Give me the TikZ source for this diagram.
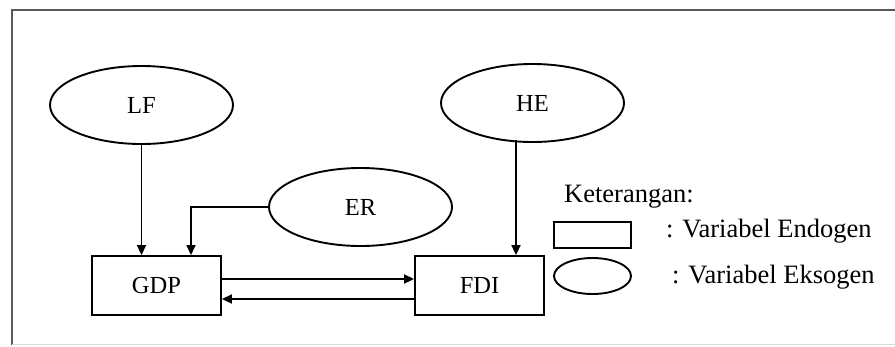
\documentclass[tikz,border=0pt]{standalone}
\usepackage{fontspec}
\setmainfont{Liberation Serif}
\usetikzlibrary{shapes.geometric,arrows.meta}
\begin{document}
\begin{tikzpicture}[x=1pt,y=-1pt,
  exo/.style={draw,ellipse,line width=1.9pt,minimum width=183pt,minimum height=78pt,inner sep=0pt,font=\fontsize{24.5}{26}\selectfont},
  endo/.style={draw,rectangle,line width=1.9pt,minimum width=129pt,minimum height=59pt,inner sep=0pt,font=\fontsize{24.5}{26}\selectfont},
  conn/.style={line width=1.9pt,-{Triangle[length=10pt,width=9pt]}},
  legtext/.style={anchor=west,inner sep=0pt,font=\fontsize{26.5}{28}\selectfont}]
\useasboundingbox (0,0) rectangle (895,346);
\fill[white] (0,0) rectangle (895,346);
% frame
\draw[black!65,line width=2.6pt] (12,345) -- (12,10) -- (895,10);
\draw[black!15,line width=1pt] (12,344.5) -- (895,344.5);
% nodes
\node[exo] (LF) at (141.5,105) {LF};
\node[exo] (ER) at (360.5,207) {ER};
\node[exo] (HE) at (532.5,103) {HE};
\node[endo] (GDP) at (156.5,285.5) {GDP};
\node[endo] (FDI) at (479.5,285.5) {FDI};
% connectors
\draw[conn] (LF.south) -- (LF.south |- GDP.north);
\coordinate (erin) at (191,256);
\draw[conn,line width=1.5pt] (ER.west) -| (erin |- GDP.north);
\coordinate (hetop) at (516,140);
\draw[conn] (hetop) -- (hetop |- FDI.north);
\draw[conn] ([yshift=6.5pt]GDP.east) -- ([yshift=6.5pt]FDI.west);
\draw[conn] ([yshift=-13.5pt]FDI.west) -- ([yshift=-13.5pt]GDP.east);
% legend
\node[legtext] (ket) at (564,197) {Keterangan:};
\node[draw,rectangle,line width=1.9pt,minimum width=77pt,minimum height=26pt,inner sep=0pt] (legrect) at (592.5,235) {};
\node[draw,ellipse,line width=1.9pt,minimum width=77pt,minimum height=36pt,inner sep=0pt] (legell) at (592.5,276) {};
\node[legtext] (lendo) at (666,231) {: Variabel Endogen};
\node[legtext] (lexo) at (672,277) {: Variabel Eksogen};
\end{tikzpicture}
\end{document}
